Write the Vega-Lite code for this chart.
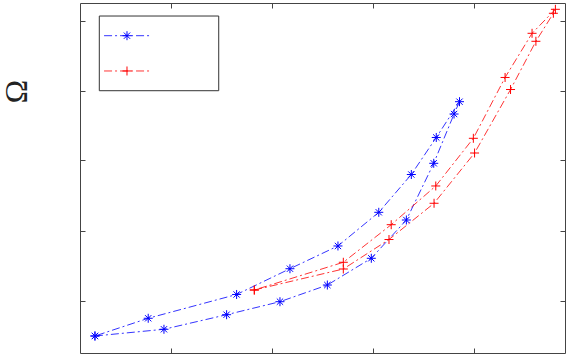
{
  "$schema": "https://vega.github.io/schema/vega-lite/v6.json",
  "width": 485,
  "height": 350,
  "autosize": {"type": "none"},
  "padding": {"left": 80, "top": 3, "right": 3, "bottom": 3},
  "background": "white",
  "config": {
    "view": {"stroke": "#444", "strokeWidth": 1},
    "axis": {"domain": false, "labels": false, "ticks": true, "tickSize": -5, "tickColor": "#444", "tickWidth": 1, "grid": false}
  },
  "data": {
    "values": [
      {"series": "Series 1", "i": 1, "x": 0.248, "y": 0.493},
      {"series": "Series 1", "i": 2, "x": 0.931, "y": 0.589},
      {"series": "Series 1", "i": 3, "x": 1.551, "y": 0.797},
      {"series": "Series 1", "i": 4, "x": 2.079, "y": 0.983},
      {"series": "Series 1", "i": 5, "x": 2.548, "y": 1.221},
      {"series": "Series 1", "i": 6, "x": 2.983, "y": 1.603},
      {"series": "Series 1", "i": 7, "x": 3.330, "y": 2.150},
      {"series": "Series 1", "i": 8, "x": 3.601, "y": 2.960},
      {"series": "Series 1", "i": 9, "x": 3.802, "y": 3.664},
      {"series": "Series 1", "i": 10, "x": 3.856, "y": 3.840},
      {"series": "Series 1", "i": 11, "x": 3.626, "y": 3.329},
      {"series": "Series 1", "i": 12, "x": 3.379, "y": 2.800},
      {"series": "Series 1", "i": 13, "x": 3.057, "y": 2.260},
      {"series": "Series 1", "i": 14, "x": 2.653, "y": 1.779},
      {"series": "Series 1", "i": 15, "x": 2.178, "y": 1.454},
      {"series": "Series 1", "i": 16, "x": 1.650, "y": 1.086},
      {"series": "Series 1", "i": 17, "x": 0.775, "y": 0.746},
      {"series": "Series 1", "i": 18, "x": 0.248, "y": 0.493},
      {"series": "Series 2", "i": 1, "x": 1.825, "y": 1.150},
      {"series": "Series 2", "i": 2, "x": 2.706, "y": 1.450},
      {"series": "Series 2", "i": 3, "x": 3.158, "y": 1.871},
      {"series": "Series 2", "i": 4, "x": 3.604, "y": 2.389},
      {"series": "Series 2", "i": 5, "x": 4.005, "y": 3.107},
      {"series": "Series 2", "i": 6, "x": 4.361, "y": 4.014},
      {"series": "Series 2", "i": 7, "x": 4.612, "y": 4.703},
      {"series": "Series 2", "i": 8, "x": 4.785, "y": 5.103},
      {"series": "Series 2", "i": 9, "x": 4.805, "y": 5.160},
      {"series": "Series 2", "i": 10, "x": 4.574, "y": 4.817},
      {"series": "Series 2", "i": 11, "x": 4.307, "y": 4.186},
      {"series": "Series 2", "i": 12, "x": 3.993, "y": 3.317},
      {"series": "Series 2", "i": 13, "x": 3.621, "y": 2.636},
      {"series": "Series 2", "i": 14, "x": 3.180, "y": 2.083},
      {"series": "Series 2", "i": 15, "x": 2.706, "y": 1.546},
      {"series": "Series 2", "i": 16, "x": 1.825, "y": 1.150}
    ]
  },
  "layer": [
    {
      "mark": {"type": "line", "strokeDash": [8, 3, 2, 3], "strokeWidth": 0.8},
      "encoding": {
        "x": {"field": "x", "type": "quantitative", "scale": {"domain": [0.1, 4.9], "nice": false, "zero": false},
              "axis": {"orient": "bottom", "values": [1, 2, 3, 4], "title": null}},
        "y": {"field": "y", "type": "quantitative", "scale": {"domain": [0.25, 5.25], "nice": false, "zero": false},
              "axis": {"orient": "left", "values": [1, 2, 3, 4, 5], "title": "Ω", "titleFont": "Liberation Serif", "titleFontSize": 32, "titleFontWeight": "normal", "titleColor": "#222", "titleX": -54, "titleY": 88, "titleAngle": 270, "titleAlign": "center", "titleBaseline": "alphabetic"}},
        "color": {
          "field": "series", "type": "nominal",
          "scale": {"domain": ["Series 1", "Series 2"], "range": ["#0000ff", "#ff0000"]},
          "legend": null
        },
        "order": {"field": "i", "type": "quantitative"}
      }
    },
    {
      "transform": [{"filter": "datum.series === 'Series 1'"}],
      "mark": {"type": "point", "filled": false, "strokeWidth": 1, "size": 81, "opacity": 1, "color": "#0000ff", "shape": "M-1,0H1M0,-1V1M-0.7,-0.7L0.7,0.7M-0.7,0.7L0.7,-0.7"},
      "encoding": {
        "x": {"field": "x", "type": "quantitative", "axis": {"orient": "top", "values": [1, 2, 3, 4], "title": null}},
        "y": {"field": "y", "type": "quantitative", "axis": {"orient": "right", "values": [1, 2, 3, 4, 5], "title": null}}
      }
    },
    {
      "transform": [{"filter": "datum.series === 'Series 2'"}],
      "mark": {"type": "point", "filled": false, "strokeWidth": 1, "size": 81, "opacity": 1, "color": "#ff0000", "shape": "M-1,0H1M0,-1V1"},
      "encoding": {
        "x": {"field": "x", "type": "quantitative", "axis": null},
        "y": {"field": "y", "type": "quantitative", "axis": null}
      }
    },
    {
      "data": {"values": [{"item": "legend"}]},
      "mark": {"type": "rect", "fill": "white", "stroke": "#333", "strokeWidth": 1},
      "encoding": {
        "x": {"datum": 0.291, "type": "quantitative", "axis": null},
        "x2": {"datum": 1.473},
        "y": {"datum": 5.064, "type": "quantitative", "axis": null},
        "y2": {"datum": 3.997}
      }
    },
    {
      "data": {"values": [{"series": "Series 1"}]},
      "mark": {"type": "rule", "color": "#0000ff", "strokeDash": [8, 3, 2, 3], "strokeWidth": 0.8},
      "encoding": {
        "x": {"datum": 0.338, "type": "quantitative", "axis": null},
        "x2": {"datum": 0.793},
        "y": {"datum": 4.783, "type": "quantitative", "axis": null}
      }
    },
    {
      "data": {"values": [{"series": "Series 1"}]},
      "mark": {"type": "point", "filled": false, "strokeWidth": 1, "size": 81, "opacity": 1, "color": "#0000ff", "shape": "M-1,0H1M0,-1V1M-0.7,-0.7L0.7,0.7M-0.7,0.7L0.7,-0.7"},
      "encoding": {
        "x": {"datum": 0.565, "type": "quantitative", "axis": null},
        "y": {"datum": 4.783, "type": "quantitative", "axis": null}
      }
    },
    {
      "data": {"values": [{"series": "Series 2"}]},
      "mark": {"type": "rule", "color": "#ff0000", "strokeDash": [8, 3, 2, 3], "strokeWidth": 0.8},
      "encoding": {
        "x": {"datum": 0.338, "type": "quantitative", "axis": null},
        "x2": {"datum": 0.793},
        "y": {"datum": 4.279, "type": "quantitative", "axis": null}
      }
    },
    {
      "data": {"values": [{"series": "Series 2"}]},
      "mark": {"type": "point", "filled": false, "strokeWidth": 1, "size": 81, "opacity": 1, "color": "#ff0000", "shape": "M-1,0H1M0,-1V1"},
      "encoding": {
        "x": {"datum": 0.565, "type": "quantitative", "axis": null},
        "y": {"datum": 4.279, "type": "quantitative", "axis": null}
      }
    }
  ],
  "resolve": {"axis": {"x": "independent", "y": "independent"}}
}
